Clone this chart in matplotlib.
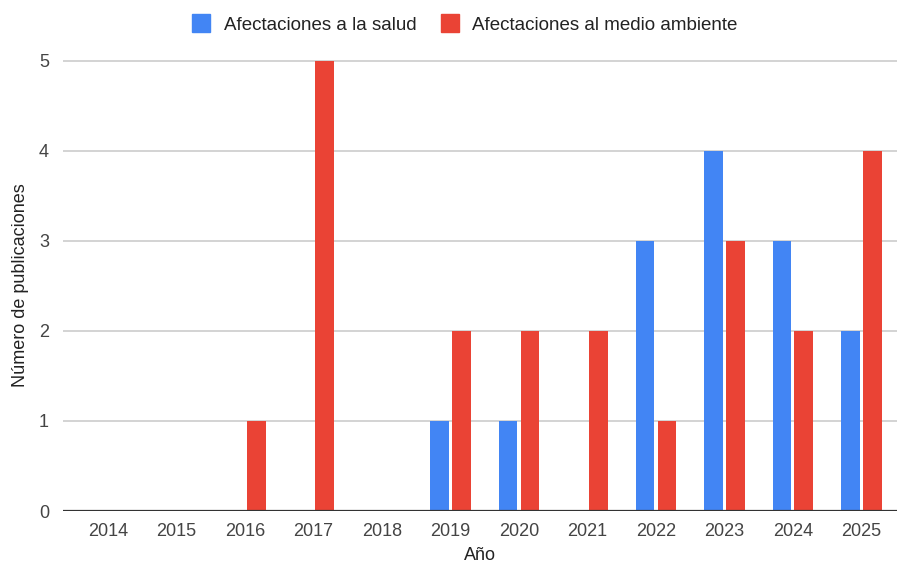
import matplotlib
matplotlib.use('Agg')
import matplotlib.pyplot as plt
from matplotlib.lines import Line2D
import numpy as np

years = ['2014', '2015', '2016', '2017', '2018', '2019',
         '2020', '2021', '2022', '2023', '2024', '2025']
salud = [0, 0, 0, 0, 0, 1, 1, 0, 3, 4, 3, 2]
ambiente = [0, 0, 1, 5, 0, 2, 2, 2, 1, 3, 2, 4]
series_names = ['Afectaciones a la salud', 'Afectaciones al medio ambiente']

blue = '#4285f4'
red = '#ea4335'
text_col = '#222222'
tick_col = '#444444'

plt.rcParams['font.family'] = ['Liberation Sans', 'DejaVu Sans']

fig = plt.figure(figsize=(8.99, 5.64), dpi=100)
fig.patch.set_facecolor('white')
ax = fig.add_axes([63 / 899, 1 - 511 / 564, (897 - 63) / 899, (511 - 60) / 564])

x = np.arange(len(years))
off = 0.16
w = 0.275
ax.bar(x - off, salud, w, color=blue, zorder=3)
ax.bar(x + off, ambiente, w, color=red, zorder=3)

ax.set_xlim(-0.66, 11.52)
ax.set_ylim(0, 5.01)
ax.set_yticks(range(0, 6))
ax.set_xticks(x)
ax.set_xticklabels(years)
ax.yaxis.grid(True, color='#cccccc', linewidth=1.2, zorder=0)
ax.axhline(0, color='#333333', linewidth=1.6, zorder=4)

for s in ax.spines.values():
    s.set_visible(False)
ax.tick_params(axis='both', length=0, labelsize=13, colors=tick_col)
ax.tick_params(axis='y', pad=10)
ax.tick_params(axis='x', pad=9)

ax.set_xlabel('Año', fontsize=13, color=text_col, labelpad=5)
ax.set_ylabel('Número de publicaciones', fontsize=13, color=text_col, labelpad=7)

handles = [Line2D([], [], marker='s', linestyle='none', markersize=13,
                  markerfacecolor=c, markeredgecolor=c) for c in (blue, red)]
fig.legend(handles, series_names, loc='upper center', bbox_to_anchor=(0.517, 1.0),
           ncol=2, frameon=False, fontsize=13.5, handlelength=0.96, handletextpad=0.7,
           columnspacing=1.3, labelcolor=text_col)

fig.savefig('out.png', dpi=100, facecolor='white')
